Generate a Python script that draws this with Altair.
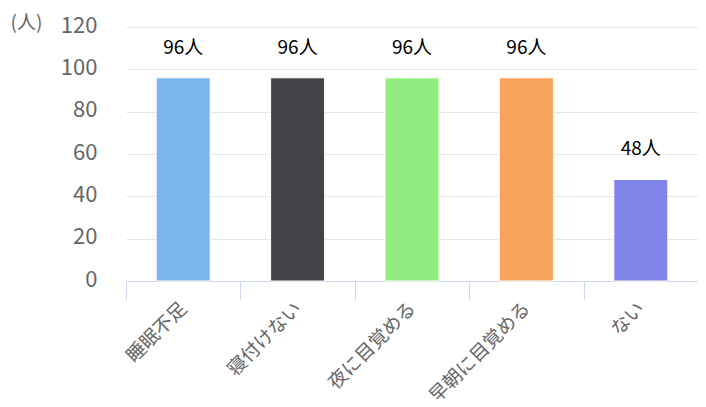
import altair as alt
import pandas as pd

categories = ["睡眠不足", "寝付けない", "夜に目覚める", "早朝に目覚める", "ない"]
values = [96, 96, 96, 96, 48]
colors = ["#7cb5ec", "#434348", "#90ed7d", "#f7a35c", "#8085e9"]
y_ticks = [0, 20, 40, 60, 80, 100, 120]

df = pd.DataFrame({
    "cat": categories,
    "val": values,
    "label": [f"{v}人" for v in values],
})

FONT = "Noto Sans CJK JP"

x_enc = alt.X(
    "cat:N",
    sort=categories,
    scale=alt.Scale(paddingInner=0, paddingOuter=0),
    axis=alt.Axis(
        title=None,
        labelAngle=-45,
        labelAlign="right",
        labelBaseline="middle",
        labelFontSize=19,
        labelColor="#666666",
        labelFont=FONT,
        labelPadding=5,
        domainColor="#ccd6eb",
        tickColor="#ccd6eb",
        tickSize=19,
        tickBand="extent",
        grid=False,
    ),
)

y_enc = alt.Y(
    "val:Q",
    scale=alt.Scale(domain=[0, 120], nice=False),
    axis=alt.Axis(
        values=y_ticks,
        title="(人)",
        titleAngle=0,
        titleAlign="left",
        titleBaseline="middle",
        titleX=-116,
        titleY=-5,
        titleFontSize=19,
        titleFontWeight="normal",
        titleColor="#666666",
        titleFont=FONT,
        labelFontSize=22,
        labelColor="#666666",
        labelFont=FONT,
        labelPadding=29,
        labelOffset=-2,
        domain=False,
        ticks=False,
        gridColor="#e6e6e6",
        gridWidth=1,
    ),
)

bars = alt.Chart(df).mark_bar(size=54, stroke="white", strokeWidth=1).encode(
    x=x_enc,
    y=y_enc,
    color=alt.Color("cat:N", sort=categories,
                    scale=alt.Scale(domain=categories, range=colors), legend=None),
)

texts = alt.Chart(df).mark_text(
    dy=-30, fontSize=19, font=FONT, color="#000000", baseline="middle"
).encode(
    x=alt.X("cat:N", sort=categories),
    y=alt.Y("val:Q"),
    text="label:N",
)

chart = alt.layer(bars, texts).properties(
    width=572,
    height=254,
    autosize=alt.AutoSizeParams(type="none"),
    padding={"left": 118, "top": 19, "right": 0, "bottom": 118},
).configure_view(stroke=None)

chart.save("out.html", embed_options={"renderer": "svg", "actions": False})
